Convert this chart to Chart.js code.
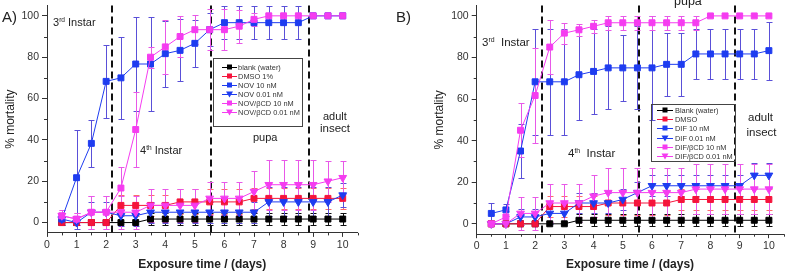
<!DOCTYPE html>
<html><head><meta charset="utf-8">
<script src="https://cdn.jsdelivr.net/npm/chart.js@4"></script>
<style>
html,body{margin:0;padding:0;background:#fff;}
#wrap{position:relative;width:789px;height:273px;overflow:hidden;font-family:Arial,"Liberation Sans",sans-serif;color:#222;}
canvas{position:absolute;top:0;}
.t{position:absolute;white-space:nowrap;line-height:1;color:#222;}
.t sup{font-size:0.6em;vertical-align:0.6em;line-height:0;}
.lg{position:absolute;border:1px solid #444;box-sizing:border-box;font-size:7.4px;color:#333;}
.lg .row{display:flex;align-items:center;white-space:nowrap;}
.lg svg{flex:none;}
</style></head><body>
<div id="wrap">
<canvas id="cA" width="395" height="273" style="left:0"></canvas>
<canvas id="cB" width="394" height="273" style="left:395px"></canvas>
<div class="t" style="left:2px;top:9px;font-size:15px">A)</div>
<div class="t" style="left:53px;top:17px;font-size:11px">3<sup>rd</sup> Instar</div>
<div class="t" style="left:140px;top:144.5px;font-size:11px">4<sup>th</sup> Instar</div>
<div class="t" style="left:253px;top:132px;font-size:11px">pupa</div>
<div class="t" style="left:323px;top:110.5px;font-size:11px">adult</div>
<div class="t" style="left:320px;top:122.5px;font-size:11.5px">insect</div>
<div class="t" style="left:396px;top:9px;font-size:15px">B)</div>
<div class="t" style="left:482px;top:37px;font-size:11.5px">3<sup>rd</sup>&nbsp; Instar</div>
<div class="t" style="left:568px;top:147.5px;font-size:11.5px">4<sup>th</sup>&nbsp; Instar</div>
<div class="t" style="left:674px;top:-5.5px;font-size:12.5px">pupa</div>
<div class="t" style="left:748px;top:112px;font-size:11.5px">adult</div>
<div class="t" style="left:746.5px;top:127px;font-size:11.5px">insect</div>
<div class="lg" id="lgA" style="left:213px;top:58px;width:90px;height:69px;padding:4.5px 0 0 7.5px"></div>
<div class="lg" id="lgB" style="left:651px;top:104px;width:85px;height:58px;padding:0.5px 0 0 5px"></div>
</div>
<script>
// ---------------- data ----------------
const days = [0.5,1,1.5,2,2.5,3,3.5,4,4.5,5,5.5,6,6.5,7,7.5,8,8.5,9,9.5,10];
const xTickValues = [0,1,2,3,4,5,6,7,8,9,10];
const yTickValues = [0,20,40,60,80,100];
const stagesA = [2.2, 5.55, 8.85];
const stagesB = [2.22, 5.54, 8.85];

const labelsA = ['blank (water)','DMSO 1%','NOV 10 nM','NOV 0.01 nM','NOV/\u03B2CD 10 nM','NOV/\u03B2CD 0.01 nM'];
const labelsB = ['Blank (water)','DMSO','DIF 10 nM','DIF 0.01 nM','DIF/\u03B2CD 10 nM','DIF/\u03B2CD 0.01 nM'];

// Panel A (NOV)
const blankA      = [0,0,0,0,0,0,1.7,1.7,1.7,1.7,1.7,1.7,1.7,1.7,1.7,1.7,1.7,1.7,1.7,1.7];
const blankAErr   = [0,0,0,0,0,0,2.9,2.9,2.9,2.9,2.9,2.9,2.9,2.9,2.9,2.9,2.9,2.9,2.9,2.9];
const dmsoA       = [0,0,0,0,8.3,8.3,8.3,8.3,10,10,10,10,10,11.7,11.7,11.7,11.7,11.7,11.7,11.7];
const dmsoAErr    = [0,0,0,0,5,5,5,5,6,6,6,6,6,5,5,5,5,5,5,5];
const nov10A      = [1.7,21.7,38.3,68.3,70,76.7,76.7,81.7,83.3,86.7,93.3,96.7,96.7,96.7,96.7,96.7,96.7,100,100,100];
const nov10AErr   = [2.9,23,11.5,17.5,20,22.5,22.5,16,15,11.5,8,8,8,8,8,8,8,0,0,0];
const nov001A     = [1.7,0,5,5,3.3,3.3,5,5,5,5,5,5,5,5,10,10,10,10,10,13.3];
const nov001AErr  = [3,3,5,5,5,5,5,5,5,5,5,5,5,5,7,7,7,7,7,6];
const novcd10A    = [3.3,1.7,5,5,16.7,45,80,85,90,93.3,93.3,93.3,95,98.3,100,100,100,100,100,100];
const novcd10AErr = [3,3,8,8,10,18,5,13,10,7,10,10,8,3,0,0,0,0,0,0];
const novcd001A   = [3.3,1.7,5,5,5,5,8.3,8.3,8.3,8.3,11.7,11.7,11.7,15,18.3,18.3,18.3,18.3,20,21.7];
const novcd001AErr= [3,3,8,8,8,8,8,8,8,8,8,8,8,10,12,12,12,12,10,8];

// Panel B (DIF)
const blankB      = [0,0,0,0,0,0,1.7,1.7,1.7,1.7,1.7,1.7,1.7,1.7,1.7,1.7,1.7,1.7,1.7,1.7];
const blankBErr   = [0,0,0,0,0,0,2.9,2.9,2.9,2.9,2.9,2.9,2.9,2.9,2.9,2.9,2.9,2.9,2.9,2.9];
const dmsoB       = [0,0,0,0,8.3,8.3,8.3,8.3,10,10,10,10,10,11.7,11.7,11.7,11.7,11.7,11.7,11.7];
const dmsoBErr    = [0,0,0,0,5,5,5,5,6,6,6,6,6,5,5,5,5,5,5,5];
const dif10B      = [5,6.7,35,68.3,68.3,68.3,71.7,73.3,75,75,75,75,76.7,76.7,81.7,81.7,81.7,81.7,81.7,83.3];
const dif10BErr   = [5,3,13,25.5,25.5,25.5,22,20.5,20,16,20,25,15,15,12,12,12,12,12,14];
const dif001B     = [0,0,3.3,3.3,5,5,10,10,10,11.7,15,18.3,18.3,18.3,18.3,18.3,18.3,18.3,23.3,23.3];
const dif001BErr  = [0,0,4,4,5,5,5,5,5,5,5,5,5,5,5,5,5,5,6,6];
const difcd10B    = [0,3.3,45,61.7,85,91.7,93.3,95,96.7,96.7,96.7,96.7,96.7,96.7,96.7,100,100,100,100,100];
const difcd10BErr = [0,3,13,23,13,5,3,3,3.4,3.4,3.4,3.4,3.4,3.4,3.4,0,0,0,0,0];
const difcd001B   = [0,0,5,5,10,10,10,13.3,15,15,15,15,15,15,16.7,16.7,16.7,16.7,16.7,16.7];
const difcd001BErr= [0,0,8,8,9,9,9,10,12,12,12,12,12,12,12,12,12,12,12,12];

// ---------------- styles ----------------
const seriesColors = ['#000000','#f5143c','#1e3cf0','#1e3cf0','#f53cf0','#f53cf0'];
const errorColors  = ['#111111','#ff6a6a','#5a50d8','#5a50d8','#e858e8','#e858e8'];
const seriesShapes = ['rect','rect','rect','down','rect','down'];

const FONT = 'Arial, "Liberation Sans", sans-serif';

const errorBarPlugin = {
  id: 'errorBars',
  beforeDatasetsDraw(chart) {
    const {ctx, chartArea: a, scales: {x, y}} = chart;
    ctx.save();
    ctx.beginPath(); ctx.rect(a.left, a.top, a.right - a.left, a.bottom - a.top); ctx.clip();
    ctx.lineWidth = 1;
    chart.data.datasets.forEach(ds => {
      ctx.strokeStyle = ds.errColor;
      ds.data.forEach((p, j) => {
        const e = ds.errors[j]; if (!e) return;
        const px = Math.round(x.getPixelForValue(p.x)) + 0.5;
        const yt = Math.round(y.getPixelForValue(p.y + e)) + 0.5;
        const yb = Math.round(y.getPixelForValue(p.y - e)) + 0.5;
        ctx.beginPath();
        ctx.moveTo(px, yt); ctx.lineTo(px, yb);
        ctx.moveTo(px - 3, yt); ctx.lineTo(px + 3, yt);
        ctx.moveTo(px - 3, yb); ctx.lineTo(px + 3, yb);
        ctx.stroke();
      });
    });
    ctx.restore();
  }
};

const stagePlugin = {
  id: 'stageLines',
  beforeDatasetsDraw(chart, args, opts) {
    const {ctx, chartArea: a, scales: {x}} = chart;
    ctx.save();
    ctx.strokeStyle = '#111'; ctx.lineWidth = 2; ctx.setLineDash([7, 4]);
    (opts.values || []).forEach(v => {
      const px = Math.round(x.getPixelForValue(v));
      ctx.beginPath(); ctx.moveTo(px, a.top); ctx.lineTo(px, a.bottom); ctx.stroke();
    });
    ctx.restore();
  }
};

const minorTickPlugin = {
  id: 'minorTicks',
  afterDraw(chart) {
    const {ctx, chartArea: a, scales: {x, y}} = chart;
    ctx.save(); ctx.strokeStyle = '#333'; ctx.lineWidth = 1;
    ctx.beginPath();
    xTickValues.forEach(v => {
      const px = Math.round(x.getPixelForValue(v + 0.5)) + 0.5;
      ctx.moveTo(px, a.bottom); ctx.lineTo(px, a.bottom + 2.5);
    });
    yTickValues.slice(0, -1).forEach(v => {
      const py = Math.round(y.getPixelForValue(v + 10)) + 0.5;
      ctx.moveTo(a.left, py); ctx.lineTo(a.left - 3, py);
    });
    ctx.stroke(); ctx.restore();
  }
};

function makeDatasets(labels, values, errors) {
  return labels.map((lab, i) => ({
    label: lab,
    data: values[i].map((v, j) => ({x: days[j], y: v})),
    errors: errors[i],
    errColor: errorColors[i],
    borderColor: seriesColors[i],
    backgroundColor: seriesColors[i],
    pointBackgroundColor: seriesColors[i],
    pointBorderColor: seriesColors[i],
    pointStyle: seriesShapes[i] === 'down' ? 'triangle' : 'rect',
    rotation: seriesShapes[i] === 'down' ? 180 : 0,
    pointRadius: seriesShapes[i] === 'down' ? 4.5 : 4.2,
    pointBorderWidth: 1,
    borderWidth: 1,
    tension: 0,
    order: labels.length - i
  }));
}

function makeChart(id, labels, values, errors, stages, g) {
  const W = g.w, H = 273;
  return new Chart(document.getElementById(id), {
    type: 'line',
    data: {datasets: makeDatasets(labels, values, errors)},
    plugins: [stagePlugin, errorBarPlugin, minorTickPlugin],
    options: {
      responsive: false, animation: false, devicePixelRatio: 1,
      layout: {padding: {left: g.padL, top: g.top, right: W - g.right, bottom: 0}},
      plugins: {legend: {display: false}, tooltip: {enabled: false}, stageLines: {values: stages}},
      scales: {
        x: {
          type: 'linear', min: 0, max: 10.5,
          afterBuildTicks: s => { s.ticks = xTickValues.map(v => ({value: v})); },
          afterFit: s => { s.height = H - g.bottom; s.paddingLeft = 0; s.paddingRight = 0; },
          ticks: {stepSize: 1, color: '#333', padding: 2, font: {family: FONT, size: 10.5}, maxRotation: 0},
          grid: {display: true, drawOnChartArea: false, drawTicks: true, tickLength: 4, color: '#333'},
          border: {display: true, color: '#333', width: 1},
          title: {display: true, text: 'Exposure time / (days)', color: '#222',
                  font: {family: FONT, size: 12, weight: 'bold'}, padding: {top: 0, bottom: 1}}
        },
        y: {
          min: -5, max: 105,
          afterBuildTicks: s => { s.ticks = yTickValues.map(v => ({value: v})); },
          afterFit: s => { s.width = g.left - g.padL; s.paddingTop = 0; s.paddingBottom = 0; },
          ticks: {stepSize: 20, color: '#333', padding: 3, font: {family: FONT, size: 10.5}},
          grid: {display: true, drawOnChartArea: false, drawTicks: true, tickLength: 5, color: '#333'},
          border: {display: true, color: '#333', width: 1},
          title: {display: true, text: '% mortality', color: '#222',
                  font: {family: FONT, size: 12}, padding: {top: 3, bottom: 0}}
        }
      }
    }
  });
}

makeChart('cA', labelsA,
  [blankA, dmsoA, nov10A, nov001A, novcd10A, novcd001A],
  [blankAErr, dmsoAErr, nov10AErr, nov001AErr, novcd10AErr, novcd001AErr],
  stagesA, {w: 395, padL: 0, left: 47, right: 357.5, top: 3.3, bottom: 232.9});

makeChart('cB', labelsB,
  [blankB, dmsoB, dif10B, dif001B, difcd10B, difcd001B],
  [blankBErr, dmsoBErr, dif10BErr, dif001BErr, difcd10BErr, difcd001BErr],
  stagesB, {w: 394, padL: 34.8, left: 81.7, right: 391.5, top: 3.5, bottom: 234.2});

function buildLegend(elId, labels, rowH, markW, gap) {
  const el = document.getElementById(elId);
  labels.forEach((lab, i) => {
    const c = seriesColors[i];
    const mid = markW / 2;
    const shape = seriesShapes[i] === 'down'
      ? `<polygon points="${mid-3.5},1.5 ${mid+3.5},1.5 ${mid},7.5" fill="${c}"/>`
      : `<rect x="${mid-2.5}" y="1.5" width="5" height="5" fill="${c}"/>`;
    const row = document.createElement('div');
    row.className = 'row';
    row.style.height = rowH + 'px';
    row.innerHTML = `<svg width="${markW}" height="9" style="margin-right:${gap}px"><line x1="0" y1="4.5" x2="${markW}" y2="4.5" stroke="${c}" stroke-width="1"/>${shape}</svg><span></span>`;
    row.querySelector('span').textContent = lab;
    el.appendChild(row);
  });
}
buildLegend('lgA', labelsA, 8.9, 15, 1.6);
buildLegend('lgB', labelsB, 9.3, 16, 2);
</script>
</body></html>
